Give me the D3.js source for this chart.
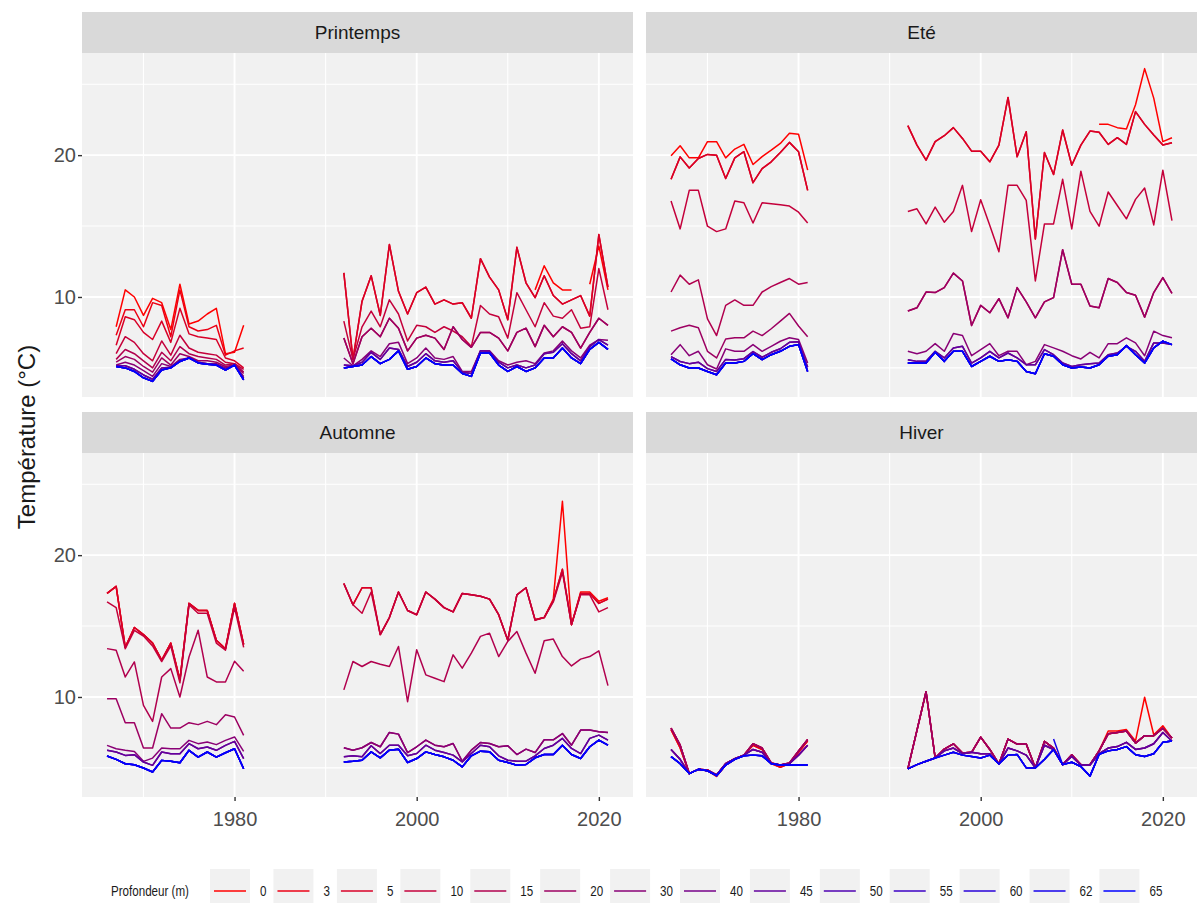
<!DOCTYPE html>
<html>
<head>
<meta charset="utf-8">
<script src="https://cdn.jsdelivr.net/npm/d3@7"></script>
<style>
body { margin: 0; background: #fff; }
text { font-family: "Liberation Sans", Arial, sans-serif; }
</style>
</head>
<body>
<script>
const width = 1198
const height = 903

const seasons = ["Printemps", "Eté", "Automne", "Hiver"]
const depths = [0, 3, 5, 10, 15, 20, 30, 40, 45, 50, 55, 60, 62, 65]
const years1 = [1966, 1967, 1968, 1969, 1970, 1971, 1972, 1973, 1974, 1975, 1976, 1977, 1978, 1979, 1980, 1981]
const years2 = [1992, 1993, 1994, 1995, 1996, 1997, 1998, 1999, 2000, 2001, 2002, 2003, 2004, 2005, 2006,
                2007, 2008, 2009, 2010, 2011, 2012, 2013, 2014, 2015, 2016, 2017, 2018, 2019, 2020, 2021]
const xTicks = [1980, 2000, 2020]
const xMinor = [1970, 1990, 2010]
const yTicks = [10, 20]
const yMinor = [5, 15, 25]

// 21 missing years (1992-2012) for series only sampled since 2013
const n21 = [null, null, null, null, null, null, null, null, null, null, null, null, null, null, null, null, null, null, null, null, null]

// Printemps 1966-1981
const pr1_0 = [null, 7.9, 10.5, 10.0, 8.7, 9.9, 9.6, 7.7, 10.9, 8.1, 8.3, 8.8, 9.2, 6.0, 6.1, 8.0]
const pr1_3 = [null, 7.3, 9.1, 9.1, 7.9, 9.6, 9.4, 7.2, 10.5, 7.9, 7.6, 7.7, 8.0, 5.9, 6.2, 6.4]
const pr1_5 = [null, 6.6, 8.6, 8.4, 7.5, 7.0, 8.3, 6.8, 9.2, 7.4, 7.2, 7.1, 7.0, 5.7, 5.5, 5.0]
const pr1_10 = [null, 6.0, 7.2, 6.8, 6.0, 5.5, 6.9, 5.9, 7.3, 6.4, 6.1, 6.0, 5.9, 5.4, 5.3, 4.9]
const pr1_15 = [null, 5.6, 6.3, 6.0, 5.5, 5.0, 6.1, 5.5, 6.5, 6.0, 5.8, 5.7, 5.6, 5.2, 5.3, 4.7]
const pr1_20 = [null, 5.4, 5.8, 5.6, 5.1, 4.7, 5.7, 5.2, 6.0, 5.8, 5.5, 5.5, 5.4, 5.1, 5.2, 4.6]
const pr1_30 = [null, 5.2, 5.4, 5.2, 4.8, 4.4, 5.3, 5.1, 5.6, 5.7, 5.4, 5.3, 5.3, 5.0, 5.2, 4.4]
const pr1_40 = [null, 5.15, 5.15, 4.9, 4.5, 4.2, 5.0, 5.05, 5.5, 5.7, 5.4, 5.3, 5.25, 4.9, 5.2, 4.3]
const pr1_deep = [null, 5.1, 5.0, 4.75, 4.3, 4.05, 4.85, 5.0, 5.45, 5.7, 5.35, 5.25, 5.2, 4.85, 5.2, 4.15]
// Printemps 1992-2021
const pr2_0 = [...n21, 10.5, 12.2, 11.0, 10.5, 10.5, null, 10.9, 13.6, 10.5]
const pr2_5 = [11.7, 5.6, 9.7, 11.5, 8.7, 13.7, 10.4, 8.8, 10.3, 10.7, 9.5, 9.8, 9.5, 9.6, 8.5,
               12.7, 11.4, 10.5, 8.4, 13.5, 11.0, 9.95, 11.5, 10.1, 9.5, 9.8, 10.1, 8.65, 14.4, 10.7]
const pr2_10 = [8.3, 5.6, 7.9, 9.0, 7.9, 9.8, 8.8, 6.9, 8.0, 7.9, 7.5, 7.9, 7.6, 7.2, 6.5,
                9.4, 8.8, 8.6, 7.1, 10.3, 9.1, 7.9, 9.6, 8.65, 8.5, 9.1, 7.8, 7.9, 12.0, 9.1]
const pr2_20 = [7.1, 5.3, 7.2, 7.8, 7.2, 8.5, 7.8, 6.2, 7.1, 7.3, 7.1, 6.3, 7.9, 7.0, 6.45,
                7.5, 7.5, 7.1, 6.2, 7.5, 7.8, 6.5, 8.0, 7.2, 7.9, 7.5, 6.4, 7.5, 8.5, 8.0]
const pr2_30 = [5.7, 5.15, 5.6, 6.2, 5.8, 6.7, 6.8, 5.3, 5.7, 6.4, 5.7, 5.6, 5.8, 4.75, 4.75,
                6.2, 6.2, 5.5, 5.2, 5.4, 5.5, 5.3, 6.05, 6.2, 6.9, 6.2, 5.7, 6.6, 7.0, 6.95]
const pr2_40 = [5.2, 5.15, 5.4, 6.1, 5.6, 6.4, 6.3, 5.1, 5.4, 6.0, 5.5, 5.4, 5.5, 4.7, 4.6,
                6.2, 6.15, 5.4, 5.0, 5.2, 5.0, 5.2, 6.0, 6.1, 6.7, 6.0, 5.5, 6.5, 7.0, 6.6]
const pr2_deep = [5.0, 5.1, 5.2, 5.8, 5.3, 5.6, 6.2, 4.9, 5.1, 5.7, 5.3, 5.2, 5.2, 4.6, 4.4,
                  6.05, 6.05, 5.2, 4.75, 5.1, 4.75, 5.0, 5.7, 5.7, 6.4, 5.7, 5.3, 6.3, 6.8, 6.3]

// Eté 1966-1981
const et1_0 = [19.95, 20.66, 19.81, 19.81, 20.95, 20.95, 19.81, 20.43, 20.76, 19.34, 19.9, 20.35, 20.83, 21.54, 21.47, 18.94]
const et1_3 = [18.3, 19.88, 19.1, 19.76, 20.05, 20.0, 18.35, 19.81, 20.24, 18.06, 19.05, 19.53, 20.19, 20.9, 20.24, 17.52]
const et1_10 = [16.76, 14.8, 17.52, 17.52, 14.99, 14.61, 14.8, 16.76, 16.64, 15.22, 16.64, 16.57, 16.5, 16.41, 15.98, 15.22]
const et1_15 = [10.35, 11.54, 10.9, 11.21, 8.46, 7.28, 9.41, 9.79, 9.41, 9.41, 10.35, 10.73, 11.02, 11.3, 10.9, 11.02]
const et1_20 = [7.59, 7.83, 8.0, 7.83, 6.17, 5.7, 7.04, 7.12, 7.12, 7.59, 7.28, 7.76, 8.3, 8.84, 7.95, 7.19]
const et1_30 = [5.93, 6.64, 5.86, 6.17, 5.22, 4.92, 6.34, 6.17, 6.17, 6.64, 6.17, 6.52, 6.88, 7.12, 7.0, 5.34]
const et1_40 = [5.8, 5.45, 5.3, 5.4, 4.95, 4.75, 5.6, 5.55, 5.65, 6.15, 5.75, 6.1, 6.35, 6.8, 6.85, 5.05]
const et1_deep = [5.63, 5.22, 4.99, 4.99, 4.75, 4.52, 5.34, 5.34, 5.46, 6.0, 5.58, 5.93, 6.17, 6.52, 6.64, 4.75]
// Eté 1992-2021
const et2_0 = [...n21, 22.17, 22.17, 21.94, 21.84, 23.55, 26.1, 24.02, 20.95, 21.23]
const et2_5 = [22.08, 20.71, 19.65, 20.95, 21.37, 21.94, 21.18, 20.28, 20.28, 19.53, 20.71, 24.07, 19.88, 21.65, 14.09,
               20.19, 18.63, 21.77, 19.29, 20.71, 21.7, 21.61, 20.76, 21.23, 20.76, 23.07, 22.17, 21.42, 20.71, 20.87]
const et2_10 = [16.03, 16.22, 15.15, 16.34, 15.27, 16.03, 17.87, 14.61, 16.86, 15.04, 13.19, 17.87, 17.87, 16.81, 11.13,
                15.15, 15.15, 18.3, 14.8, 18.87, 16.03, 14.99, 17.4, 16.45, 15.51, 16.88, 17.68, 15.08, 18.94, 15.39]
const et2_20 = [9.01, 9.24, 10.35, 10.31, 10.66, 11.68, 11.13, 7.99, 9.41, 8.89, 9.88, 8.53, 10.66, 9.65, 8.53,
                9.65, 9.95, 13.33, 10.9, 10.9, 9.36, 9.24, 11.3, 11.02, 10.31, 10.12, 8.58, 10.31, 11.37, 10.26]
const et2_30 = [6.17, 6.0, 6.17, 6.71, 6.17, 7.42, 7.28, 5.86, 6.29, 6.71, 5.86, 6.17, 6.17, 5.22, 5.46,
                6.64, 6.41, 6.17, 5.86, 5.63, 6.1, 5.7, 6.71, 6.71, 7.12, 6.76, 5.86, 7.59, 7.28, 7.12]
const et2_40 = [5.58, 5.46, 5.46, 6.17, 5.7, 6.41, 6.52, 5.34, 5.7, 6.17, 5.7, 6.05, 5.7, 5.22, 5.22,
                6.29, 5.93, 5.34, 5.1, 5.22, 5.3, 5.34, 5.93, 6.05, 6.52, 6.17, 5.46, 6.76, 6.76, 6.64]
const et2_deep = [5.34, 5.34, 5.34, 6.1, 5.46, 6.17, 6.17, 5.1, 5.46, 5.82, 5.46, 5.58, 5.46, 4.75, 4.59,
                  6.0, 5.82, 5.22, 4.99, 5.06, 4.99, 5.22, 5.82, 5.93, 6.57, 5.93, 5.34, 6.41, 6.88, 6.64]

// Automne 1966-1981
const au1_0 = [17.3, 17.8, 13.5, 14.9, 14.4, 13.8, 12.6, 13.8, 11.2, 16.6, 16.1, 16.1, 14.0, 13.4, 16.6, 13.7]
const au1_10 = [16.7, 16.3, 13.4, 14.7, 14.3, 13.6, 12.5, 13.6, 11.0, 16.5, 15.9, 15.9, 13.8, 13.3, 16.3, 13.5]
const au1_15 = [13.41, 13.29, 11.41, 12.47, 9.41, 8.28, 11.41, 12.0, 10.0, 12.82, 14.71, 11.41, 11.06, 11.06, 12.52, 11.81]
const au1_20 = [9.88, 9.88, 8.19, 8.19, 6.4, 6.4, 8.82, 7.81, 7.81, 8.19, 8.05, 8.28, 8.05, 8.75, 8.59, 7.29]
const au1_30 = [6.59, 6.35, 6.24, 6.16, 5.46, 5.69, 6.4, 6.35, 6.35, 6.94, 6.71, 6.82, 6.64, 6.94, 7.18, 6.16]
const au1_40 = [6.24, 6.12, 5.88, 5.93, 5.41, 5.18, 6.12, 6.0, 6.0, 6.71, 6.35, 6.47, 6.24, 6.59, 6.87, 5.65]
const au1_deep = [5.84, 5.6, 5.29, 5.22, 4.99, 4.71, 5.53, 5.46, 5.36, 6.24, 5.76, 6.12, 5.76, 6.07, 6.35, 4.94]
// Automne 1992-2021
const au2_0 = [...n21, 15.45, 15.6, 16.9, 23.8, 15.1, 17.4, 17.4, 16.75, 17.0]
const au2_3 = [18.0, 16.5, 17.7, 17.7, 14.4, 15.6, 17.4, 16.1, 15.8, 17.4, 16.9, 16.3, 16.0, 17.3, 17.2,
               17.1, 16.9, 15.8, 14.0, 17.2, 17.7, 15.45, 15.6, 16.8, 19.0, 15.1, 17.3, 17.3, 16.6, 16.9]
const au2_10 = [18.0, 16.5, 15.9, 17.4, 14.4, 15.6, 17.4, 16.1, 15.8, 17.4, 16.9, 16.3, 16.0, 17.3, 17.2,
                17.1, 16.9, 15.8, 14.0, 17.2, 17.7, 15.4, 15.6, 16.7, 18.8, 15.1, 17.2, 17.2, 16.0, 16.3]
const au2_15 = [10.5, 12.5, 12.15, 12.5, 12.31, 12.15, 13.56, 9.67, 13.33, 11.56, 11.32, 11.08, 12.97, 12.03, 13.09,
                14.27, 14.5, 12.85, 13.92, 14.62, 13.09, 11.67, 13.96, 14.08, 12.85, 12.19, 12.67, 12.85, 13.25, 10.8]
const au2_20 = [6.42, 6.25, 6.42, 6.79, 6.49, 7.5, 7.38, 6.08, 6.49, 6.96, 6.6, 6.49, 6.72, 5.47, 6.25,
                6.79, 6.72, 6.49, 6.56, 5.94, 6.32, 6.08, 6.98, 6.98, 7.42, 6.6, 7.67, 7.67, 7.55, 7.5]
const au2_40 = [5.78, 5.85, 5.78, 6.56, 6.01, 6.6, 6.6, 5.85, 6.01, 6.6, 6.25, 6.08, 5.9, 5.42, 6.01,
                6.6, 6.49, 5.85, 5.54, 5.47, 5.47, 5.85, 6.37, 6.6, 7.08, 6.37, 6.01, 7.08, 7.31, 6.96]
const au2_deep = [5.42, 5.47, 5.54, 6.13, 5.71, 6.25, 6.32, 5.38, 5.66, 6.13, 5.94, 5.78, 5.54, 5.07, 5.85,
                  6.18, 6.13, 5.54, 5.38, 5.19, 5.24, 5.71, 5.94, 5.94, 6.6, 5.94, 5.66, 6.49, 6.96, 6.6]

// Hiver 1966-1981
const hi1_0 = [7.7, 6.4, 4.6, 4.9, 4.8, 4.4, 5.2, 5.6, 5.9, 6.6, 6.3, 5.3, 5.05, 5.3, 6.1, 6.9]
const hi1_10 = [7.8, 6.6, 4.6, 4.9, 4.85, 4.5, 5.3, 5.65, 5.9, 6.7, 6.4, 5.35, 5.2, 5.35, 6.2, 7.0]
const hi1_30 = [6.3, 5.6, 4.6, 4.9, 4.8, 4.5, 5.3, 5.65, 5.9, 6.3, 6.1, 5.3, 5.2, 5.3, 5.9, 6.6]
const hi1_deep = [5.8, 5.3, 4.6, 4.9, 4.8, 4.45, 5.2, 5.6, 5.85, 5.9, 5.85, 5.3, 5.2, 5.2, 5.2, 5.2]
// Hiver 1992-2021
const hi2_0 = [...n21, 6.2, 7.6, 7.6, 7.7, 6.9, 9.98, 7.34, 7.97, 7.1]
const hi2_10 = [4.93, 7.65, 10.37, 5.7, 6.33, 6.7, 6.05, 6.1, 7.17, 6.3, 5.28, 7.03, 6.68, 6.68, 5.0,
                6.87, 6.4, 5.23, 5.93, 5.23, 5.23, 6.2, 7.4, 7.5, 7.6, 6.75, 7.27, 7.27, 7.8, 7.1]
const hi2_30 = [4.93, 5.23, 5.47, 5.7, 6.2, 6.4, 6.0, 6.1, 6.0, 6.0, 5.28, 6.4, 6.2, 5.9, 5.0,
                6.6, 6.3, 5.23, 5.8, 5.2, 5.2, 6.0, 6.4, 6.5, 6.8, 6.3, 6.4, 6.7, 7.5, 6.9]
const hi2_deep = [4.93, 5.23, 5.47, 5.7, 5.9, 6.1, 5.9, 5.8, 5.7, 5.9, 5.28, 5.9, 5.95, 5.0, 5.0,
                  5.6, 6.29, 5.23, 5.4, 5.1, 4.42, 5.95, 6.2, 6.3, 6.5, 5.93, 5.8, 6.0, 6.8, 6.9]
const hi2_62 = [null, null, null, null, null, null, null, null, null, null, null, null, null, null, null, null,
                7.03, 5.23, 5.4, 5.1, 4.42, 5.95, 6.2, 6.3, 6.5, 5.93, 5.8, 6.0, 6.8, 6.9]

// which series each depth (same order as depths) follows, per season
const printemps1 = [pr1_0, pr1_3, pr1_5, pr1_10, pr1_15, pr1_20, pr1_30, pr1_40, pr1_40, pr1_deep, pr1_deep, pr1_deep, pr1_deep, pr1_deep]
const printemps2 = [pr2_0, pr2_5, pr2_5, pr2_10, pr2_20, pr2_20, pr2_30, pr2_40, pr2_40, pr2_deep, pr2_deep, pr2_deep, pr2_deep, pr2_deep]
const ete1 = [et1_0, et1_3, et1_3, et1_10, et1_15, et1_20, et1_30, et1_40, et1_40, et1_deep, et1_deep, et1_deep, et1_deep, et1_deep]
const ete2 = [et2_0, et2_5, et2_5, et2_10, et2_20, et2_20, et2_30, et2_40, et2_40, et2_deep, et2_deep, et2_deep, et2_deep, et2_deep]
const automne1 = [au1_0, au1_0, au1_0, au1_10, au1_15, au1_20, au1_30, au1_40, au1_40, au1_deep, au1_deep, au1_deep, au1_deep, au1_deep]
const automne2 = [au2_0, au2_3, au2_3, au2_10, au2_15, au2_20, au2_20, au2_40, au2_40, au2_deep, au2_deep, au2_deep, au2_deep, au2_deep]
const hiver1 = [hi1_0, hi1_0, hi1_10, hi1_10, hi1_10, hi1_10, hi1_30, hi1_30, hi1_30, hi1_deep, hi1_deep, hi1_deep, hi1_deep, hi1_deep]
const hiver2 = [hi2_0, hi2_10, hi2_10, hi2_10, hi2_10, hi2_10, hi2_30, hi2_30, hi2_30, hi2_deep, hi2_deep, hi2_deep, hi2_62, hi2_deep]

const period1 = [printemps1, ete1, automne1, hiver1]
const period2 = [printemps2, ete2, automne2, hiver2]

// build long table: one series per season x depth, gap between the two periods
const series = seasons.flatMap((s, si) => depths.map((d, di) => ({
    season: s,
    depth: d,
    values: [
        ...years1.map((yr, i) => ({ year: yr, t: period1[si][di][i] })),
        { year: 1986, t: null },
        ...years2.map((yr, i) => ({ year: yr, t: period2[si][di][i] }))
    ]
})))

// layout
const panelW = 551
const panelH = 344
const stripH = 41
const panelX = [82, 646]
const panelY = [53, 453]

const svg = d3.select('body').append('svg')
        .attr('width', width)
        .attr('height', height)

svg.append('rect').attr('width', width).attr('height', height).attr('fill', '#fff')

const allYears = years1.concat(years2)
const yearExt = d3.extent(allYears)
const yearPad = (yearExt[1] - yearExt[0]) * 0.05
const x = d3.scaleLinear()
        .domain([yearExt[0] - yearPad, yearExt[1] + yearPad])
        .range([0, panelW])

const allTemps = series.flatMap(s => s.values.map(v => v.t)).filter(v => v != null)
const tExt = d3.extent(allTemps)
const tPad = (tExt[1] - tExt[0]) * 0.05
const y = d3.scaleLinear()
        .domain([tExt[0] - tPad, tExt[1] + tPad])
        .range([panelH, 0])

const color = d3.scaleOrdinal()
        .domain(depths)
        .range(d3.quantize(d3.interpolateRgb("#FF0000", "#0000FF"), depths.length))

const line = d3.line()
        .defined(d => d.t != null)
        .x(d => x(d.year))
        .y(d => y(d.t))

seasons.forEach((s, si) => {
    const col = si % 2
    const row = Math.floor(si / 2)
    const g = svg.append('g')
            .attr('transform', 'translate(' + panelX[col] + ',' + panelY[row] + ')')

    // strip
    g.append('rect')
        .attr('x', 0).attr('y', -stripH)
        .attr('width', panelW).attr('height', stripH)
        .attr('fill', '#D9D9D9')
    g.append('text')
        .attr('x', panelW / 2).attr('y', -stripH / 2)
        .attr('dy', '0.35em')
        .attr('text-anchor', 'middle')
        .attr('font-size', 19)
        .attr('fill', '#1A1A1A')
        .text(s)

    // panel background + grid
    g.append('rect')
        .attr('width', panelW).attr('height', panelH)
        .attr('fill', '#F1F1F1')

    g.selectAll('.xminor').data(xMinor).join('line')
        .attr('x1', d => x(d)).attr('x2', d => x(d))
        .attr('y1', 0).attr('y2', panelH)
        .attr('stroke', '#fff').attr('stroke-width', 1.1)
    g.selectAll('.yminor').data(yMinor).join('line')
        .attr('y1', d => y(d)).attr('y2', d => y(d))
        .attr('x1', 0).attr('x2', panelW)
        .attr('stroke', '#fff').attr('stroke-width', 1.1)
    g.selectAll('.xmajor').data(xTicks).join('line')
        .attr('x1', d => x(d)).attr('x2', d => x(d))
        .attr('y1', 0).attr('y2', panelH)
        .attr('stroke', '#fff').attr('stroke-width', 1.9)
    g.selectAll('.ymajor').data(yTicks).join('line')
        .attr('y1', d => y(d)).attr('y2', d => y(d))
        .attr('x1', 0).attr('x2', panelW)
        .attr('stroke', '#fff').attr('stroke-width', 1.9)

    // lines, shallow first so deep ones are drawn on top
    g.selectAll('path.temp')
        .data(series.filter(d => d.season === s))
        .join('path')
        .attr('class', 'temp')
        .attr('d', d => line(d.values))
        .attr('fill', 'none')
        .attr('stroke', d => color(d.depth))
        .attr('stroke-width', 1.5)
        .attr('stroke-linejoin', 'round')

    // axes
    if (col === 0) {
        const ya = g.append('g')
                .call(d3.axisLeft(y).tickValues(yTicks).tickSize(4).tickPadding(2))
        ya.select('.domain').remove()
        ya.selectAll('line').attr('stroke', '#333').attr('stroke-width', 1.4)
        ya.selectAll('text').attr('font-size', 20).attr('fill', '#4D4D4D')
            .attr('font-family', '"Liberation Sans", Arial, sans-serif')
    }
    if (row === 1) {
        const xa = g.append('g')
                .attr('transform', 'translate(0,' + panelH + ')')
                .call(d3.axisBottom(x).tickValues(xTicks).tickFormat(d3.format('d')).tickSize(4).tickPadding(11))
        xa.select('.domain').remove()
        xa.selectAll('line').attr('stroke', '#333').attr('stroke-width', 1.4)
        xa.selectAll('text').attr('font-size', 20).attr('fill', '#4D4D4D')
            .attr('font-family', '"Liberation Sans", Arial, sans-serif')
    }
})

// y title
svg.append('text')
    .attr('transform', 'translate(27,437) rotate(-90)')
    .attr('dy', '0.35em')
    .attr('text-anchor', 'middle')
    .attr('font-size', 24)
    .attr('fill', '#1A1A1A')
    .text('Température (°C)')

// legend
const legY = 891
const legend = svg.append('g')
legend.append('text')
    .attr('transform', 'translate(111,' + legY + ') scale(0.8,1)')
    .attr('dy', '0.35em')
    .attr('font-size', 14.5)
    .attr('fill', '#1A1A1A')
    .text('Profondeur (m)')

let kx = 210
depths.forEach(d => {
    legend.append('rect')
        .attr('x', kx).attr('y', legY - 22)
        .attr('width', 40).attr('height', 44)
        .attr('fill', '#F1F1F1')
    legend.append('line')
        .attr('x1', kx + 4).attr('x2', kx + 36)
        .attr('y1', legY).attr('y2', legY)
        .attr('stroke', color(d)).attr('stroke-width', 1.5)
    const t = legend.append('text')
        .attr('transform', 'translate(' + (kx + 50) + ',' + legY + ') scale(0.8,1)')
        .attr('dy', '0.35em')
        .attr('font-size', 14.5)
        .attr('fill', '#1A1A1A')
        .text(d)
    kx += 50 + t.node().getComputedTextLength() * 0.8 + 7
})
</script>
</body>
</html>
